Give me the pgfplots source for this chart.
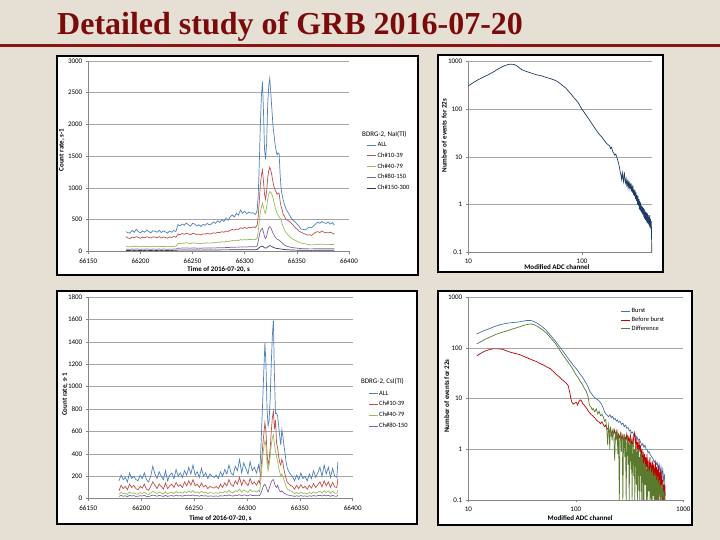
\documentclass[border=0pt]{standalone}
\usepackage{pgfplots}
\pgfplotsset{compat=1.18}
\usepackage{pgfplotstable}
\usepackage{fontspec}
\setmainfont{Carlito}
\newfontfamily\titlefont{Liberation Serif}
\definecolor{bg}{HTML}{E6DFD3}
\definecolor{titlered}{HTML}{7A0B0B}
\definecolor{titleline}{HTML}{8B1414}
\definecolor{axisgray}{HTML}{868686}
\definecolor{gridgray}{HTML}{A6A6A6}
\definecolor{xblue}{HTML}{4F81BD}
\definecolor{xred}{HTML}{C0504D}
\definecolor{xgreen}{HTML}{9BBB59}
\definecolor{xpurple}{HTML}{8064A2}
\definecolor{xdark}{HTML}{403152}
\definecolor{navy}{HTML}{1F3B63}
\definecolor{bburst}{HTML}{4472A8}
\definecolor{bbefore}{HTML}{C00000}
\definecolor{bdiff}{HTML}{5C7A2E}

\pgfplotstableread{
t all c1 c2 c3 c4
66186 310 230 80 35 15
66188 295 210 72 32 12
66190 285 200 70 30 14
66192 330 225 78 36 16
66194 300 215 74 33 13
66196 345 230 82 38 15
66198 310 220 76 34 14
66200 290 205 70 31 12
66202 320 225 80 35 15
66204 300 212 73 33 13
66206 335 230 78 36 16
66208 310 218 75 34 14
66210 290 210 70 32 12
66212 325 228 79 35 15
66214 315 222 76 34 14
66216 300 215 72 33 13
66218 330 232 80 36 16
66220 295 210 74 32 13
66222 320 225 77 35 15
66224 305 218 75 34 14
66226 285 205 70 31 12
66228 320 228 78 35 15
66230 300 215 73 33 13
66232 330 235 80 36 16
66234 310 222 78 34 14
66236 420 270 125 50 20
66238 400 262 120 48 18
66240 430 280 130 52 21
66242 410 268 125 50 19
66244 445 285 135 54 22
66246 420 275 128 51 20
66248 395 260 122 48 18
66250 440 282 132 53 21
66252 430 278 130 52 20
66254 400 265 124 49 19
66256 420 272 128 50 20
66258 390 258 120 47 18
66260 425 275 130 51 20
66262 410 270 126 50 19
66264 440 285 134 53 21
66266 415 272 128 51 20
66268 430 280 132 52 20
66270 460 290 138 54 21
66272 440 285 135 53 21
66274 480 300 145 56 22
66276 455 292 140 55 21
66278 500 310 150 58 23
66280 470 300 145 56 22
66282 520 320 155 60 23
66284 490 312 150 58 22
66286 540 330 162 62 24
66288 575 345 170 64 24
66290 540 335 165 62 23
66292 600 350 175 66 25
66294 570 345 170 65 24
66296 650 370 185 70 26
66298 600 360 178 68 25
66300 630 375 185 70 26
66302 590 360 180 68 25
66304 620 380 188 72 26
66306 600 372 185 70 25
66308 610 385 190 72 26
66310 580 375 185 70 25
66311 600 390 195 75 26
66312 650 420 210 90 30
66313 900 560 320 160 45
66314 1400 800 480 250 60
66315 2000 1050 620 320 70
66316 2450 1200 700 350 78
66317 2674 1282 760 362 80
66318 2200 1100 700 300 70
66319 1600 900 620 230 55
66320 1450 820 600 200 50
66321 1700 950 700 240 55
66322 2300 1150 820 320 70
66323 2600 1270 900 370 82
66324 2727 1324 940 388 88
66325 2500 1280 930 370 85
66326 2250 1200 900 330 75
66327 2000 1100 850 290 65
66328 1850 1020 780 260 58
66329 1700 980 703 230 52
66330 1600 940 650 210 48
66331 1520 900 600 190 44
66332 1550 920 570 185 42
66333 1534 914 540 175 40
66334 1200 780 520 160 38
66335 966 700 493 145 35
66336 880 650 430 130 33
66337 800 572 380 115 30
66338 740 560 340 100 28
66339 700 520 310 90 26
66340 651 500 288 82 25
66342 600 480 250 72 23
66344 540 455 215 64 21
66346 493 420 195 58 20
66348 470 380 175 54 19
66350 430 350 160 50 18
66352 400 320 145 46 17
66354 350 300 130 43 16
66356 345 285 125 41 16
66358 336 270 118 40 15
66360 360 255 110 39 15
66362 380 262 105 38 15
66364 370 250 100 38 14
66366 400 275 102 39 15
66368 430 300 105 40 15
66370 460 310 110 41 16
66372 441 295 108 40 15
66374 470 320 112 41 16
66376 450 300 110 40 15
66378 440 295 108 40 15
66380 460 290 110 41 16
66382 430 300 106 40 15
66384 450 285 108 39 15
66386 415 270 105 39 15
}\nai

\pgfplotstableread{
t all c1 c2 c3
66179 160 70 40 20
66181 210 120 55 30
66183 170 90 45 22
66185 190 110 50 26
66187 150 80 38 18
66189 230 130 60 30
66191 180 100 48 24
66193 200 120 52 28
66195 170 90 44 20
66197 160 80 40 22
66199 210 110 55 27
66201 180 95 46 24
66203 230 130 58 30
66205 170 85 44 20
66207 150 75 38 18
66209 200 110 52 26
66211 290 150 65 32
66213 220 120 56 28
66215 180 90 46 22
66217 240 130 60 30
66219 200 110 50 25
66221 170 85 42 20
66223 250 140 62 30
66225 160 90 42 20
66227 210 115 54 26
66229 230 130 58 28
66231 180 100 46 22
66233 260 145 64 32
66235 200 110 52 25
66237 230 125 58 28
66239 190 100 48 22
66241 250 150 62 30
66243 210 115 54 26
66245 280 160 68 32
66247 220 120 56 27
66249 300 170 72 34
66251 210 115 54 25
66253 240 130 60 28
66255 190 100 48 22
66257 270 140 66 30
66259 200 105 52 24
66261 230 120 58 27
66263 180 90 46 21
66265 220 110 55 25
66267 200 100 50 23
66269 190 95 48 22
66271 210 110 53 24
66273 180 90 46 21
66275 240 130 60 27
66277 200 100 52 23
66279 260 140 65 29
66281 220 115 56 25
66283 300 170 74 33
66285 230 125 58 26
66287 210 110 54 24
66289 290 160 72 32
66291 250 130 64 28
66293 350 190 85 36
66295 230 120 58 26
66297 320 170 80 34
66299 270 140 68 30
66301 220 115 56 25
66303 330 180 82 36
66305 250 130 64 28
66307 280 150 70 30
66309 230 120 58 26
66311 300 160 74 32
66312 250 140 62 28
66313 400 230 150 45
66314 650 350 260 70
66315 900 480 380 100
66316 1150 580 460 120
66317 1390 680 520 130
66318 1200 600 470 110
66319 800 400 320 80
66320 650 300 250 60
66321 700 350 300 90
66322 900 450 380 120
66323 1200 600 480 150
66324 1450 720 540 165
66325 1590 780 570 170
66326 1100 620 480 140
66327 760 700 420 110
66328 763 500 380 100
66329 740 450 330 120
66330 650 380 280 90
66331 560 320 240 70
66332 480 300 200 60
66333 613 350 220 70
66334 560 320 200 60
66335 470 260 170 50
66336 408 220 140 45
66337 330 180 110 40
66338 280 150 90 35
66339 254 140 80 32
66341 220 120 70 28
66343 200 110 62 26
66345 160 85 45 20
66347 210 120 55 26
66349 170 90 45 21
66351 230 125 58 28
66353 180 95 46 22
66355 200 110 50 25
66357 160 85 42 20
66359 220 120 55 26
66361 180 95 46 22
66363 250 135 62 28
66365 190 100 48 23
66367 230 125 58 27
66369 280 150 68 30
66371 200 105 50 24
66373 300 160 72 32
66375 220 115 55 25
66377 280 150 70 30
66379 190 100 48 22
66381 270 145 66 29
66383 200 105 50 23
66385 190 100 48 22
66386 330 180 75 34
}\csi

\pgfplotstableread{
x y
10 310
11 360
12 410
13 450
14 495
15 530
16 580
17 630
18 690
19 740
20 790
21 830
22 860
23 880
24 885
25 875
26 850
27 800
28 750
29 700
30 670
32 630
34 600
36 575
38 550
40 530
44 505
48 470
52 445
56 420
60 390
64 350
68 310
72 280
76 240
80 210
84 180
88 160
92 140
96 118
100 100
105 85
110 72
115 62
120 53
125 46
130 40
135 35
140 31
145 28
150 26
155 23
160 21
165 19
170 18
175 17
178 15
182 16
186 13
190 12
194 11
198 11.5
202 10
206 8.5
210 7.2
214 5.8
217 4.6
220 4.2
223 3.4
226 4.6
229 3.5
232 3.0
235 4.8
238 3.6
241 2.9
244 3.4
247 2.6
250 3.1
253 2.4
256 2.9
259 2.2
262 2.8
265 2.3
268 2.6
271 1.9
274 2.4
277 1.8
280 2.5
283 1.6
286 2.1
289 1.5
292 2.0
295 1.3
298 1.8
301 1.2
304 1.6
307 1.0
310 1.5
313 0.95
316 1.3
319 0.8
322 1.2
325 0.75
328 1.1
331 0.7
334 0.95
337 0.65
340 0.9
343 0.6
346 0.85
349 0.55
352 0.8
355 0.5
358 0.75
361 0.48
364 0.7
367 0.45
370 0.68
373 0.42
376 0.65
379 0.4
382 0.6
385 0.38
388 0.55
391 0.35
394 0.6
397 0.33
400 0.5
403 0.3
406 0.45
408 0.25
410 0.1
}\spec

\pgfplotstableread{
x y
12 189
13 205
14 220
15 232
16 245
17 258
18 270
19 280
20 290
22 302
24 312
26 318
28 322
30 328
32 338
34 345
36 350
38 348
40 338
42 322
44 305
46 285
48 268
50 250
53 225
56 195
60 165
64 140
68 118
72 100
76 86
80 74
84 64
88 56
92 50
96 44
100 40
105 35
110 30
115 27
120 23
125 20
130 17
135 14
140 12.5
145 11.3
150 10.5
155 10
160 9.5
165 9
170 8.3
175 7.5
180 6.5
185 5.5
190 5
196 4.7
202 4.4
208 4.8
214 4.2
220 4.5
226 3.9
232 4.1
238 3.6
244 3.8
250 3.4
258 3.6
266 3.1
274 3.3
282 2.8
290 3.0
298 2.6
306 2.7
314 2.3
322 2.4
330 2.1
338 2.2
346 1.9
354 2.0
362 1.7
370 1.8
380 1.5
390 1.6
400 1.4
410 1.2
420 1.3
430 1.1
440 1.2
450 1.0
460 1.0
470 0.85
480 0.9
490 0.8
500 0.75
512 0.7
524 0.65
536 0.55
548 0.6
560 0.5
572 0.55
584 0.4
596 0.5
608 0.35
620 0.45
632 0.3
644 0.4
656 0.25
668 0.3
680 0.12
}\burst

\pgfplotstableread{
x y
12 70
13 78
14 85
15 90
16 94
17 96
18 96
19 96
20 95
21 94
22 90
24 84
26 80
28 77
30 74
32 70
34 66
36 63
38 60
40 57
43 54
46 50
50 46
54 42
58 39
62 34
66 30
70 27
74 24
78 22
82 20
85 18
88 13
90 10
92 8.5
95 7.8
98 8.2
101 8.5
104 7.5
107 8.8
110 9.5
113 9
116 8
119 7.6
122 7
126 6.5
130 5.8
135 5.2
140 4.8
145 4.5
150 4.2
155 3.8
160 3.6
165 3.4
170 3.2
175 3.5
180 3.1
185 2.8
190 3.0
195 2.5
200 2.6
205 2.2
210 2.4
215 1.9
220 2.3
225 2.0
230 2.4
235 1.8
240 2.2
245 1.6
250 2.0
256 1.7
262 2.1
268 1.5
274 1.9
280 1.4
286 1.8
292 1.5
298 2.0
304 1.3
310 1.7
316 1.4
322 1.9
328 1.2
334 1.6
340 1.1
346 1.8
352 2.1
358 1.3
364 1.7
370 1.0
376 1.4
382 0.8
388 1.5
394 0.9
400 1.2
406 0.6
412 1.0
418 0.5
424 0.9
430 0.4
436 0.8
442 0.3
448 0.7
454 0.45
460 0.8
466 0.3
472 0.6
478 0.2
484 0.5
490 0.7
496 0.25
502 0.55
508 0.15
514 0.45
520 0.6
526 0.2
532 0.5
538 0.1
544 0.4
550 0.55
556 0.15
562 0.45
568 0.1
574 0.4
580 0.2
586 0.5
592 0.1
598 0.35
604 0.15
610 0.4
616 0.1
622 0.35
628 0.2
634 0.3
640 0.1
646 0.25
652 0.1
658 0.2
664 0.1
670 0.2
675 0.1
}\before

\pgfplotstableread{
x y
12 120
13 132
14 145
15 155
16 165
17 175
18 185
19 192
20 200
22 212
24 225
26 238
28 250
30 262
32 275
34 285
36 292
38 298
40 292
42 280
44 265
46 250
48 235
50 220
53 200
56 175
60 148
64 126
68 104
72 86
76 72
80 62
84 54
88 47
92 41
96 35
100 30
105 26
110 22
115 19
120 16
125 14
130 11
133 8
136 7
139 6.8
142 6
145 6.4
150 5.5
155 6.3
160 5
165 5.6
170 4.6
175 4.9
180 4.4
185 3.6
190 3.9
195 2.2
198 1.2
201 3.0
204 2.5
207 1.0
210 2.8
214 2.2
218 1.5
222 2.6
226 1.8
230 0.6
234 2.2
238 1.5
242 2.5
246 0.8
250 1.9
254 0.1
258 1.6
262 2.2
266 0.9
270 1.8
274 0.1
278 1.5
282 2.0
286 0.7
290 1.6
294 0.1
298 1.3
302 1.9
306 0.5
310 1.4
314 0.1
318 1.2
322 1.7
326 0.4
330 1.3
334 0.1
338 1.1
342 1.5
346 0.3
350 1.0
354 0.1
358 1.2
362 0.9
366 0.2
370 1.0
374 0.1
378 0.8
382 1.1
386 0.15
390 0.7
394 0.1
398 0.9
402 0.3
406 0.8
410 0.1
414 0.6
418 0.7
422 0.1
426 0.5
430 0.1
436 0.6
442 0.2
448 0.5
454 0.1
460 0.45
466 0.1
472 0.5
478 0.15
484 0.4
490 0.1
496 0.45
502 0.1
508 0.35
514 0.1
520 0.4
526 0.12
532 0.3
538 0.1
544 0.35
550 0.1
556 0.3
562 0.1
568 0.25
574 0.1
580 0.3
590 0.1
600 0.25
610 0.1
620 0.2
630 0.1
640 0.22
650 0.1
660 0.15
670 0.1
}\diff

\pgfplotsset{
  excel/.style={
    scale only axis,
    anchor=south west,
    axis x line*=bottom, axis y line*=left,
    axis line style={-, draw=axisgray, line width=0.6pt},
    ymajorgrids, major grid style={draw=gridgray, line width=0.6pt},
    tick align=outside, major tick length=2.5pt,
    tick style={draw=axisgray, line width=0.5pt},
    tick label style={font=\fontsize{7}{8}\selectfont, text=black},
    xticklabel style={yshift=-1pt},
    scaled x ticks=false, scaled y ticks=false,
    label style={font=\bfseries\fontsize{7}{8}\selectfont},
    xlabel style={anchor=center},
    ylabel style={anchor=center},
    /pgf/number format/1000 sep={},
    /pgf/number format/assume math mode=true,
    clip mode=individual,
    every axis plot/.append style={line width=0.7pt, mark=none},
    legend cell align=left,
    legend image code/.code={\draw[##1, line width=0.9pt] (0pt,0pt) -- (9pt,0pt);},
    legend style={draw=none, fill=none, inner sep=0pt, font=\fontsize{6.5}{7}\selectfont,
      nodes={inner sep=0.8pt},
      /tikz/every even column/.append style={column sep=1pt}},
  },
  logexcel/.style={excel, xminorticks=false, yminorticks=false,
    ymin=0.1, ymax=1000, ytick={0.1,1,10,100,1000}, yticklabels={0.1,1,10,100,1000}},
}

\begin{document}
\begin{tikzpicture}[x=1pt,y=1pt]
\useasboundingbox (0,0) rectangle (720,540);
\fill[bg] (0,0) rectangle (720,540);
\node[anchor=base west, inner sep=0pt, text=titlered, font=\titlefont\bfseries\fontsize{32}{36}\selectfont] at (57,505.5) {Detailed study of GRB 2016-07-20};
\draw[line width=3pt, titleline] (0,494.5) -- (720,494.5);
\filldraw[fill=white, draw=black, line width=1.2pt] (57,265) rectangle (418,484);
\filldraw[fill=white, draw=black, line width=1.2pt] (438,268) rectangle (663,485);
\filldraw[fill=white, draw=black, line width=1.2pt] (57,16) rectangle (417,249);
\filldraw[fill=white, draw=black, line width=1.2pt] (438,15) rectangle (692,249);

% Panel 1
\begin{axis}[excel, at={(88.3pt,288.7pt)}, width=260.7pt, height=190.3pt,
  xmin=66150, xmax=66400, ymin=0, ymax=3000,
  xtick={66150,66200,66250,66300,66350,66400},
  xticklabels={66150,66200,66250,66300,66350,66400},
  ytick={0,500,1000,1500,2000,2500,3000},
  xlabel={Time of 2016-07-20, s}, ylabel={Count rate, s-1},
  xlabel style={at={(axis description cs:0.5,-0.098)}},
  ylabel style={at={(axis description cs:-0.102,0.532)}},
  legend style={at={(1.068,0.578)}, anchor=north west, row sep=3.2pt}]
\addplot[xblue] table[x=t,y=all]{\nai};
\addplot[xred] table[x=t,y=c1]{\nai};
\addplot[xgreen] table[x=t,y=c2]{\nai};
\addplot[xpurple] table[x=t,y=c3]{\nai};
\addplot[xdark] table[x=t,y=c4]{\nai};
\legend{ALL,Ch\#10-39,Ch\#40-79,Ch\#80-150,Ch\#150-300}
\node[anchor=west, inner sep=0pt, font=\fontsize{7}{8}\selectfont] at (rel axis cs:1.050,0.616) {BDRG-2, NaI(Tl)};
\end{axis}

% Panel 2
\begin{axis}[logexcel, xmode=log, ymode=log, at={(468.3pt,287.7pt)}, width=183.7pt, height=190.6pt,
  xmin=10, xmax=412, xtick={10,100}, xticklabels={10,100},
  xlabel={Modified ADC channel}, ylabel={Number of events for 22s},
  xlabel style={at={(axis description cs:0.482,-0.080)}},
  ylabel style={at={(axis description cs:-0.131,0.612)}}]
\addplot[navy] table[x=x,y=y]{\spec};
\end{axis}

% Panel 3
\begin{axis}[excel, at={(88.3pt,41.3pt)}, width=264.4pt, height=201.7pt,
  xmin=66150, xmax=66400, ymin=0, ymax=1800,
  xtick={66150,66200,66250,66300,66350,66400},
  xticklabels={66150,66200,66250,66300,66350,66400},
  ytick={0,200,...,1800},
  xlabel={Time of 2016-07-20, s}, ylabel={Count rate, s-1},
  xlabel style={at={(axis description cs:0.5,-0.096)}},
  ylabel style={at={(axis description cs:-0.088,0.516)}},
  legend style={at={(1.059,0.539)}, anchor=north west, row sep=3.2pt}]
\addplot[xblue] table[x=t,y=all]{\csi};
\addplot[xred] table[x=t,y=c1]{\csi};
\addplot[xgreen] table[x=t,y=c2]{\csi};
\addplot[xpurple] table[x=t,y=c3]{\csi};
\legend{ALL,Ch\#10-39,Ch\#40-79,Ch\#80-150}
\node[anchor=west, inner sep=0pt, font=\fontsize{7}{8}\selectfont] at (rel axis cs:1.031,0.579) {BDRG-2, CsI(Tl)};
\end{axis}

% Panel 4
\begin{axis}[logexcel, xmode=log, ymode=log, at={(468.3pt,40pt)}, width=215pt, height=202.7pt,
  xmin=10, xmax=1000, xtick={10,100,1000}, xticklabels={10,100,1000},
  xlabel={Modified ADC channel}, ylabel={Number of events for 22s},
  xlabel style={at={(axis description cs:0.52,-0.089)}},
  ylabel style={at={(axis description cs:-0.100,0.513)}},
  legend style={at={(0.709,0.949)}, anchor=north west, row sep=1.2pt}]
\addplot[bburst] table[x=x,y=y]{\burst};
\addplot[bbefore] table[x=x,y=y]{\before};
\addplot[bdiff] table[x=x,y=y]{\diff};
\legend{Burst,Before burst,Difference}
\end{axis}
\end{tikzpicture}
\end{document}
